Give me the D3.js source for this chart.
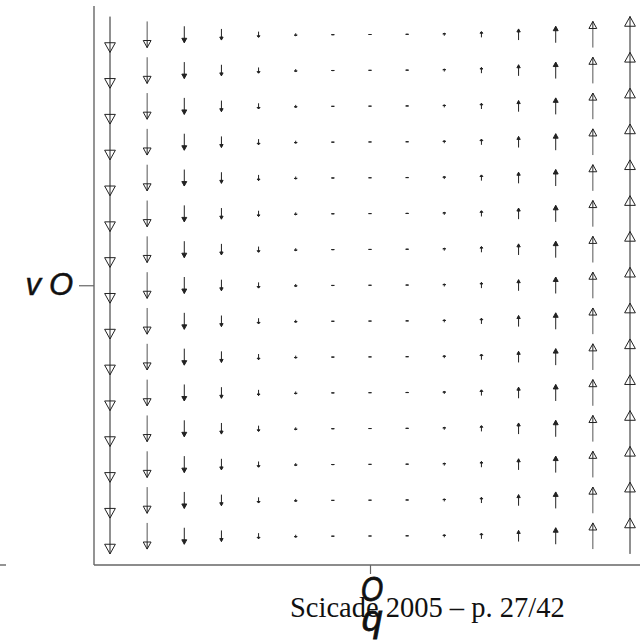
<!DOCTYPE html>
<html>
<head>
<meta charset="utf-8">
<script src="https://cdn.jsdelivr.net/npm/d3@7"></script>
<style>
  html, body { margin: 0; padding: 0; background: #fff; }
  svg { display: block; }
</style>
</head>
<body>
<script>
// Grid of the vector field (column positions q, row positions v)
const qValues = [-7, -6, -5, -4, -3, -2, -1, 0, 1, 2, 3, 4, 5, 6, 7];
const vValues = [-7, -6, -5, -4, -3, -2, -1, 0, 1, 2, 3, 4, 5, 6, 7];
// Vertical component of the arrows in each column (in v units)
const flow = [-1.0, -0.73, -0.46, -0.31, -0.16, -0.07, -0.02, 0, 0.02, 0.07, 0.16, 0.31, 0.46, 0.73, 1.0];
// Tick labels
const xTickValues = [0];
const xTickLabel = "O";
const xTickSub = "q";
const yTickValues = [0];
const yTickLabelParts = ["v", "O"];
const footer = "Scicade 2005 \u2013 p. 27/42";

const W = 640, H = 641;
const svg = d3.select("body").append("svg").attr("width", W).attr("height", H);

const x = d3.scaleLinear().domain([-7, 7]).range([110, 630]);
const y = d3.scaleLinear().domain([-7, 7]).range([536, 34.5]);

const axisColor = "#666";
const axisLeftX = 94, axisBottomY = 565;

// axis lines
svg.append("line").attr("x1", axisLeftX).attr("x2", axisLeftX).attr("y1", 6).attr("y2", axisBottomY)
  .attr("stroke", axisColor).attr("stroke-width", 1.4);
svg.append("line").attr("x1", axisLeftX).attr("x2", W).attr("y1", axisBottomY).attr("y2", axisBottomY)
  .attr("stroke", axisColor).attr("stroke-width", 1.4);
svg.append("line").attr("x1", 0).attr("x2", 6).attr("y1", axisBottomY).attr("y2", axisBottomY)
  .attr("stroke", axisColor).attr("stroke-width", 1.4);

// ticks via d3 axes
const gx = svg.append("g").attr("transform", `translate(0,${axisBottomY})`)
  .call(d3.axisBottom(x).tickValues(xTickValues).tickSize(9).tickSizeOuter(0).tickFormat(""));
gx.select(".domain").remove();
gx.selectAll(".tick line").attr("stroke", axisColor).attr("stroke-width", 1.2);

const gy = svg.append("g").attr("transform", `translate(${axisLeftX},0)`)
  .call(d3.axisLeft(y).tickValues(yTickValues).tickSize(15).tickSizeOuter(0).tickFormat(""));
gy.select(".domain").remove();
gy.selectAll(".tick line").attr("stroke", axisColor).attr("stroke-width", 1.2);

// arrows
const cells = [];
qValues.forEach((q, i) => vValues.forEach(v => cells.push({ q, v, f: flow[i] })));

const g = svg.append("g");
cells.forEach(d => {
  const cx = x(d.q);
  const tailY = y(d.v - d.f / 2);
  const tipY = y(d.v + d.f / 2);
  const L = Math.abs(tipY - tailY);
  const hl = 0.27 * L;
  const hw = Math.max(3, 0.3 * L);
  const sign = d.f > 0 ? 1 : -1;
  const baseY = tipY + sign * hl;
  if (L > 0.5) {
    g.append("line").attr("x1", cx).attr("x2", cx).attr("y1", tailY).attr("y2", tipY)
      .attr("stroke", L > 20 && L < 30 ? "#555" : "#222").attr("stroke-width", 1);
  }
  g.append("path")
    .attr("d", `M${cx},${tipY}L${cx - hw / 2},${baseY}L${cx + hw / 2},${baseY}Z`)
    .attr("fill", L > 20 ? "#fff" : "#222")
    .attr("stroke", "#222").attr("stroke-width", 1).attr("stroke-linejoin", "miter");
  if (L > 20) {
    g.append("line").attr("x1", cx).attr("x2", cx).attr("y1", baseY).attr("y2", tipY)
      .attr("stroke", "#222").attr("stroke-width", 1);
  }
});

// footer text (serif)
svg.append("text").attr("x", 290).attr("y", 617)
  .attr("font-family", "'Liberation Serif', 'Times New Roman', serif")
  .attr("font-size", 28.5).attr("fill", "#111").text(footer);

// x tick label
const x0 = x(xTickValues[0]) + 2;
svg.append("text").attr("transform", `translate(${x0},601) scale(0.8,1)`)
  .attr("text-anchor", "middle")
  .attr("font-family", "'Liberation Sans', Arial, sans-serif").attr("font-style", "italic")
  .attr("font-size", 36).attr("fill", "#111").attr("stroke", "#111").attr("stroke-width", 0.8)
  .text(xTickLabel);
svg.append("text").attr("x", x0).attr("y", 631)
  .attr("text-anchor", "middle")
  .attr("font-family", "'Liberation Sans', Arial, sans-serif").attr("font-style", "italic")
  .attr("font-size", 37).attr("fill", "#111").attr("stroke", "#111").attr("stroke-width", 0.8)
  .text(xTickSub);

// y tick label
const yl = y(yTickValues[0]) + 10;
svg.append("text").attr("x", 41).attr("y", yl).attr("text-anchor", "end")
  .attr("font-family", "'Liberation Sans', Arial, sans-serif").attr("font-style", "italic")
  .attr("font-size", 31).attr("fill", "#111").attr("stroke", "#111").attr("stroke-width", 0.5)
  .text(yTickLabelParts[0]);
svg.append("text").attr("x", 73).attr("y", yl).attr("text-anchor", "end")
  .attr("font-family", "'Liberation Sans', Arial, sans-serif").attr("font-style", "italic")
  .attr("font-size", 31).attr("fill", "#111").attr("stroke", "#111").attr("stroke-width", 0.5)
  .text(yTickLabelParts[1]);
</script>
</body>
</html>
